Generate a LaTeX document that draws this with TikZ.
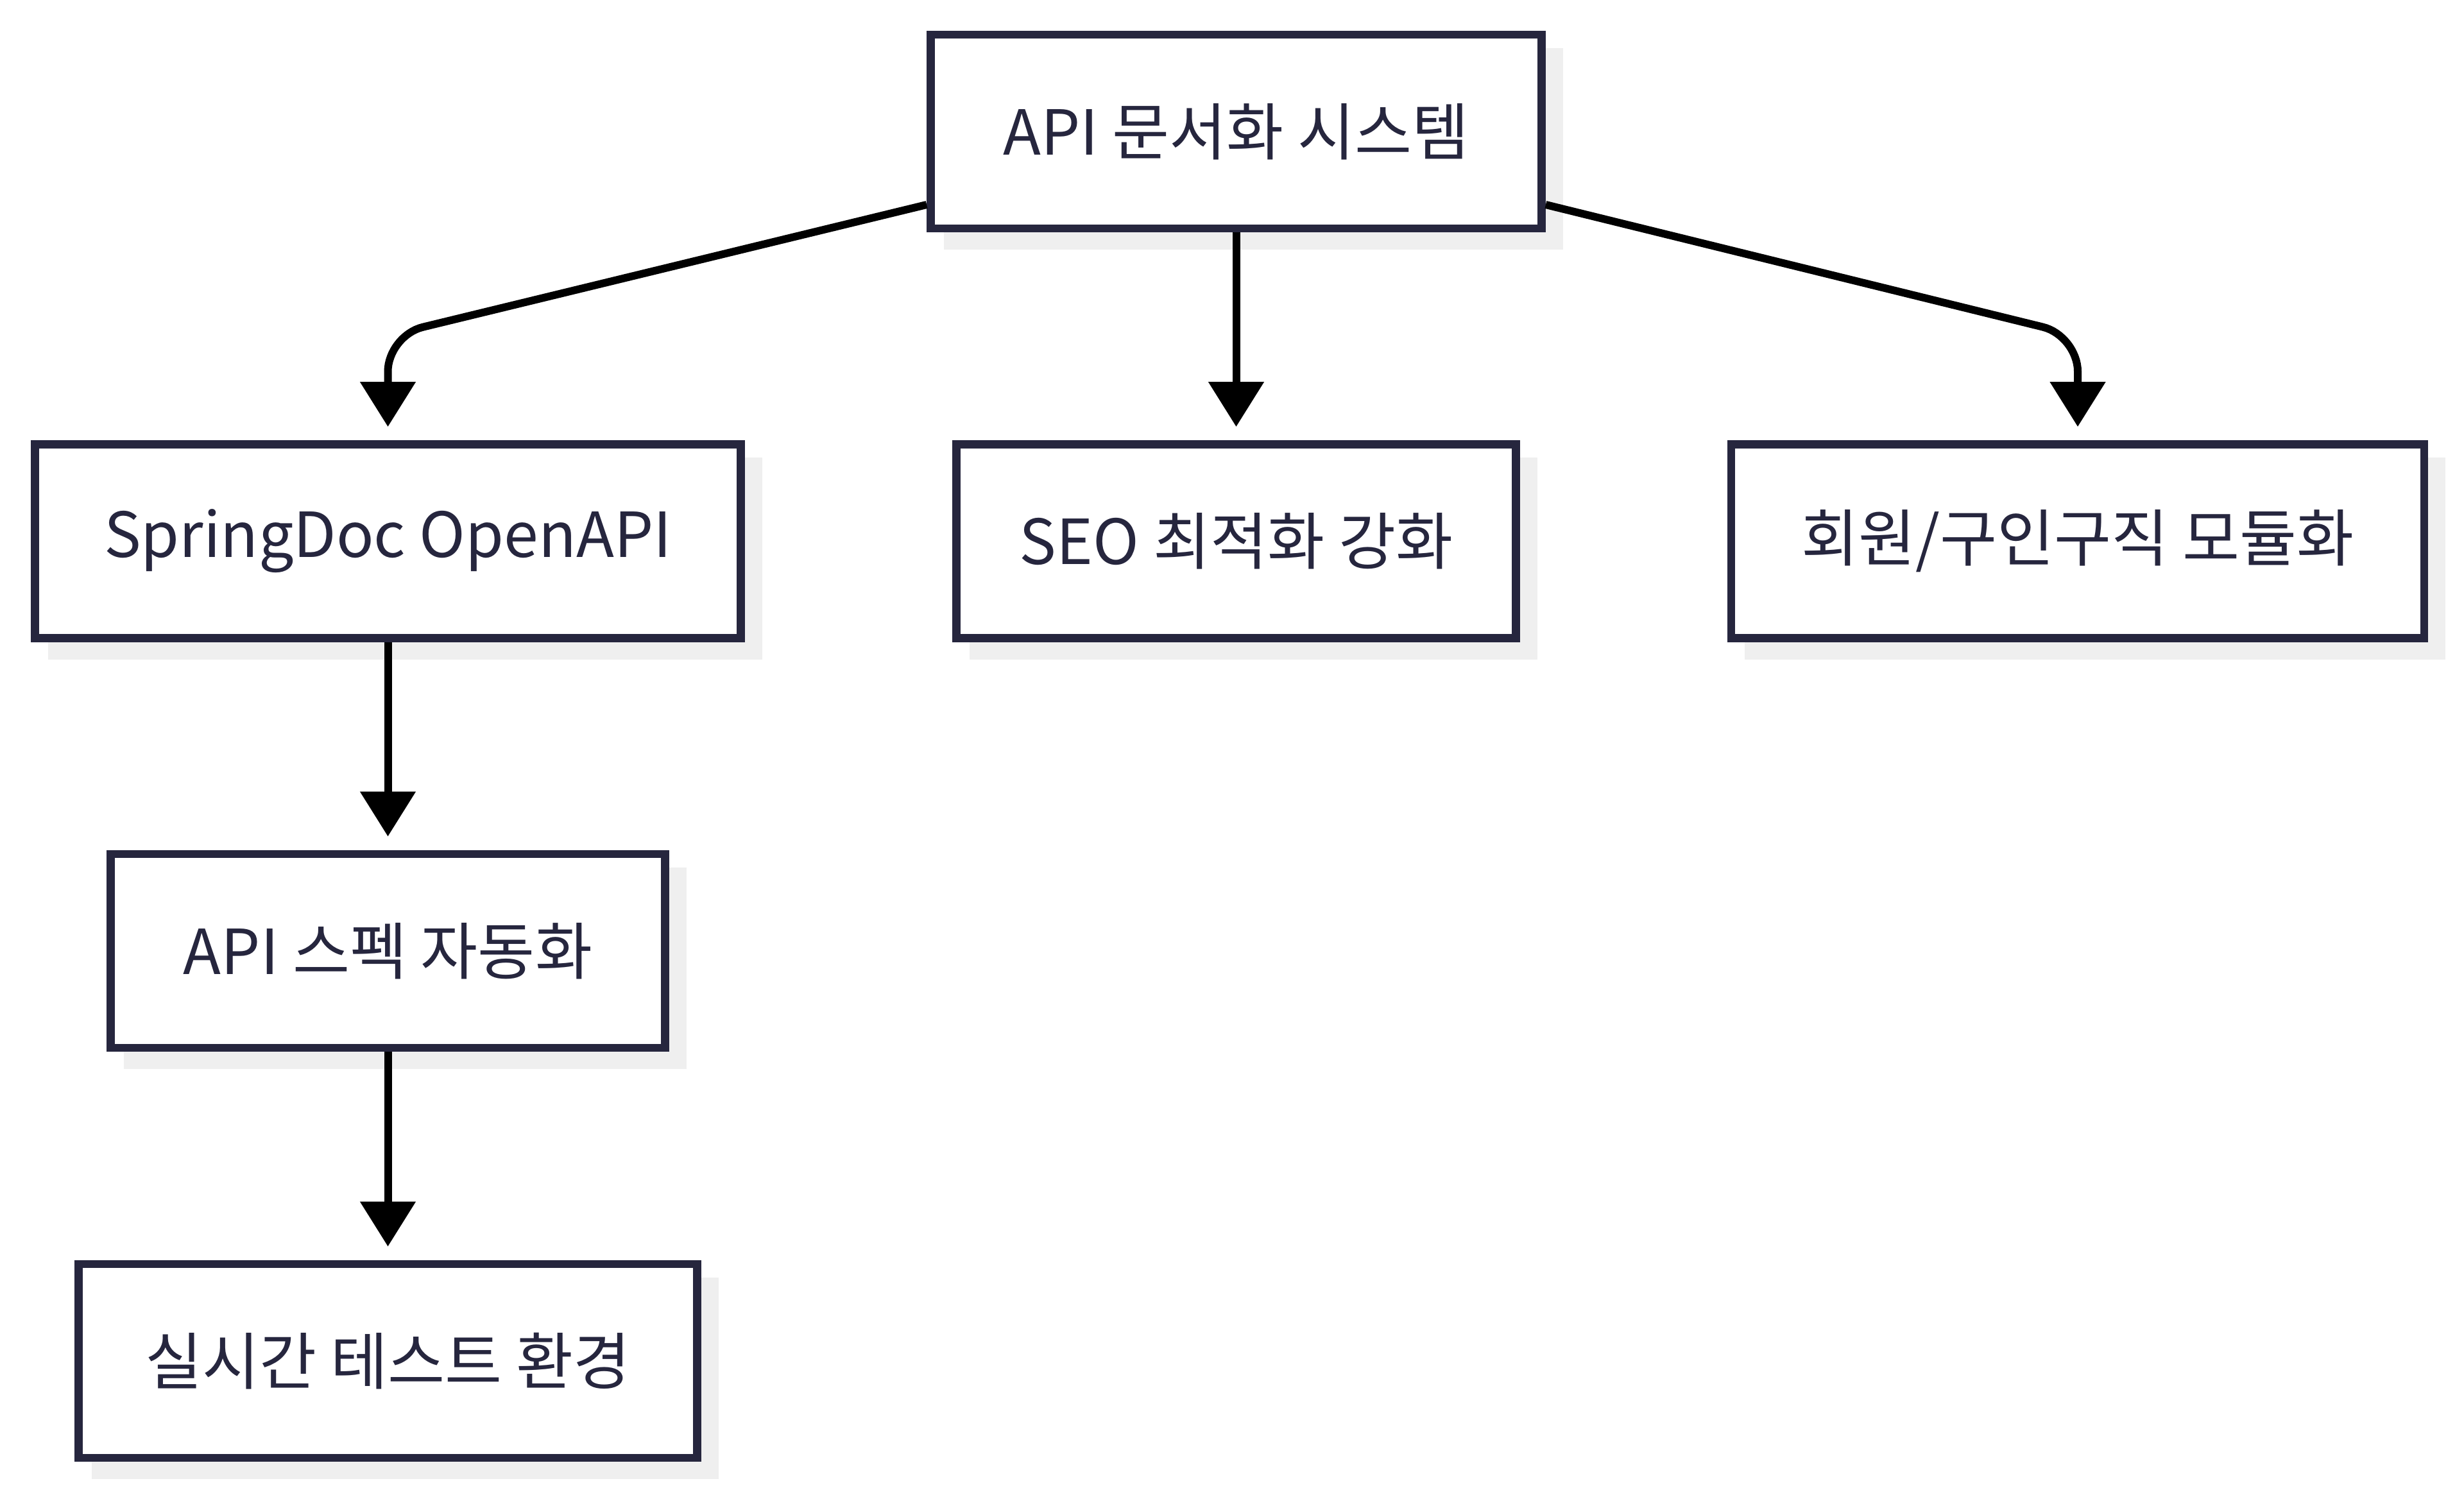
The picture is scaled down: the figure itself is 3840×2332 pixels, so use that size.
\documentclass[tikz,border=0pt]{standalone}
\usepackage{fontspec}
\setmainfont{Noto Sans CJK KR}
\usetikzlibrary{arrows.meta,calc,backgrounds}
\definecolor{boxline}{RGB}{38,38,62}
\definecolor{shadowcol}{RGB}{239,239,239}
\definecolor{txt}{RGB}{38,38,62}
\begin{document}
\begin{tikzpicture}[x=0.25pt,y=-0.25pt,
  box/.style={draw=boxline, fill=white, line width=3.2pt, rectangle,
    minimum height=75.5pt, inner sep=0pt, text=txt, font=\fontsize{24.2}{28}\selectfont},
  arr/.style={draw=black, line width=3pt, -{Triangle[length=17.5pt,width=21pt]},
    shorten >=5.25pt, rounded corners=14pt},
  shadowbox/.style={fill=shadowcol}
]
\useasboundingbox (0,0) rectangle (3840,2332);

\node[box, minimum width=238pt] (top) at (1926.5,205) {API 문서화 시스템};
\node[box, minimum width=275pt] (sd)  at (604.5,843.5) {SpringDoc OpenAPI};
\node[box, minimum width=218pt] (seo) at (1926.5,843.5) {SEO 최적화 강화};
\node[box, minimum width=270pt] (mem) at (3238,843.5) {회원/구인구직 모듈화};
\node[box, minimum width=216pt] (spec) at (604.5,1482) {API 스펙 자동화};
\node[box, minimum width=241pt] (rt)  at (604.5,2121) {실시간 테스트 환경};

\begin{scope}[on background layer]
  \foreach \n in {top,sd,seo,mem,spec,rt}{
    \fill[shadowbox] ($(\n.south west)+(27,27)$) rectangle ($(\n.north east)+(27,27)$);
  }
\end{scope}

\draw[arr] (top.south) -- (seo.north);
\draw[arr] ($(top.west)+(0,114)$) -- (sd.north |- 0,523) -- (sd.north);
\draw[arr] ($(top.east)+(0,114)$) -- (mem.north |- 0,523) -- (mem.north);
\draw[arr] (sd.south) -- (spec.north);
\draw[arr] (spec.south) -- (rt.north);
\end{tikzpicture}
\end{document}
